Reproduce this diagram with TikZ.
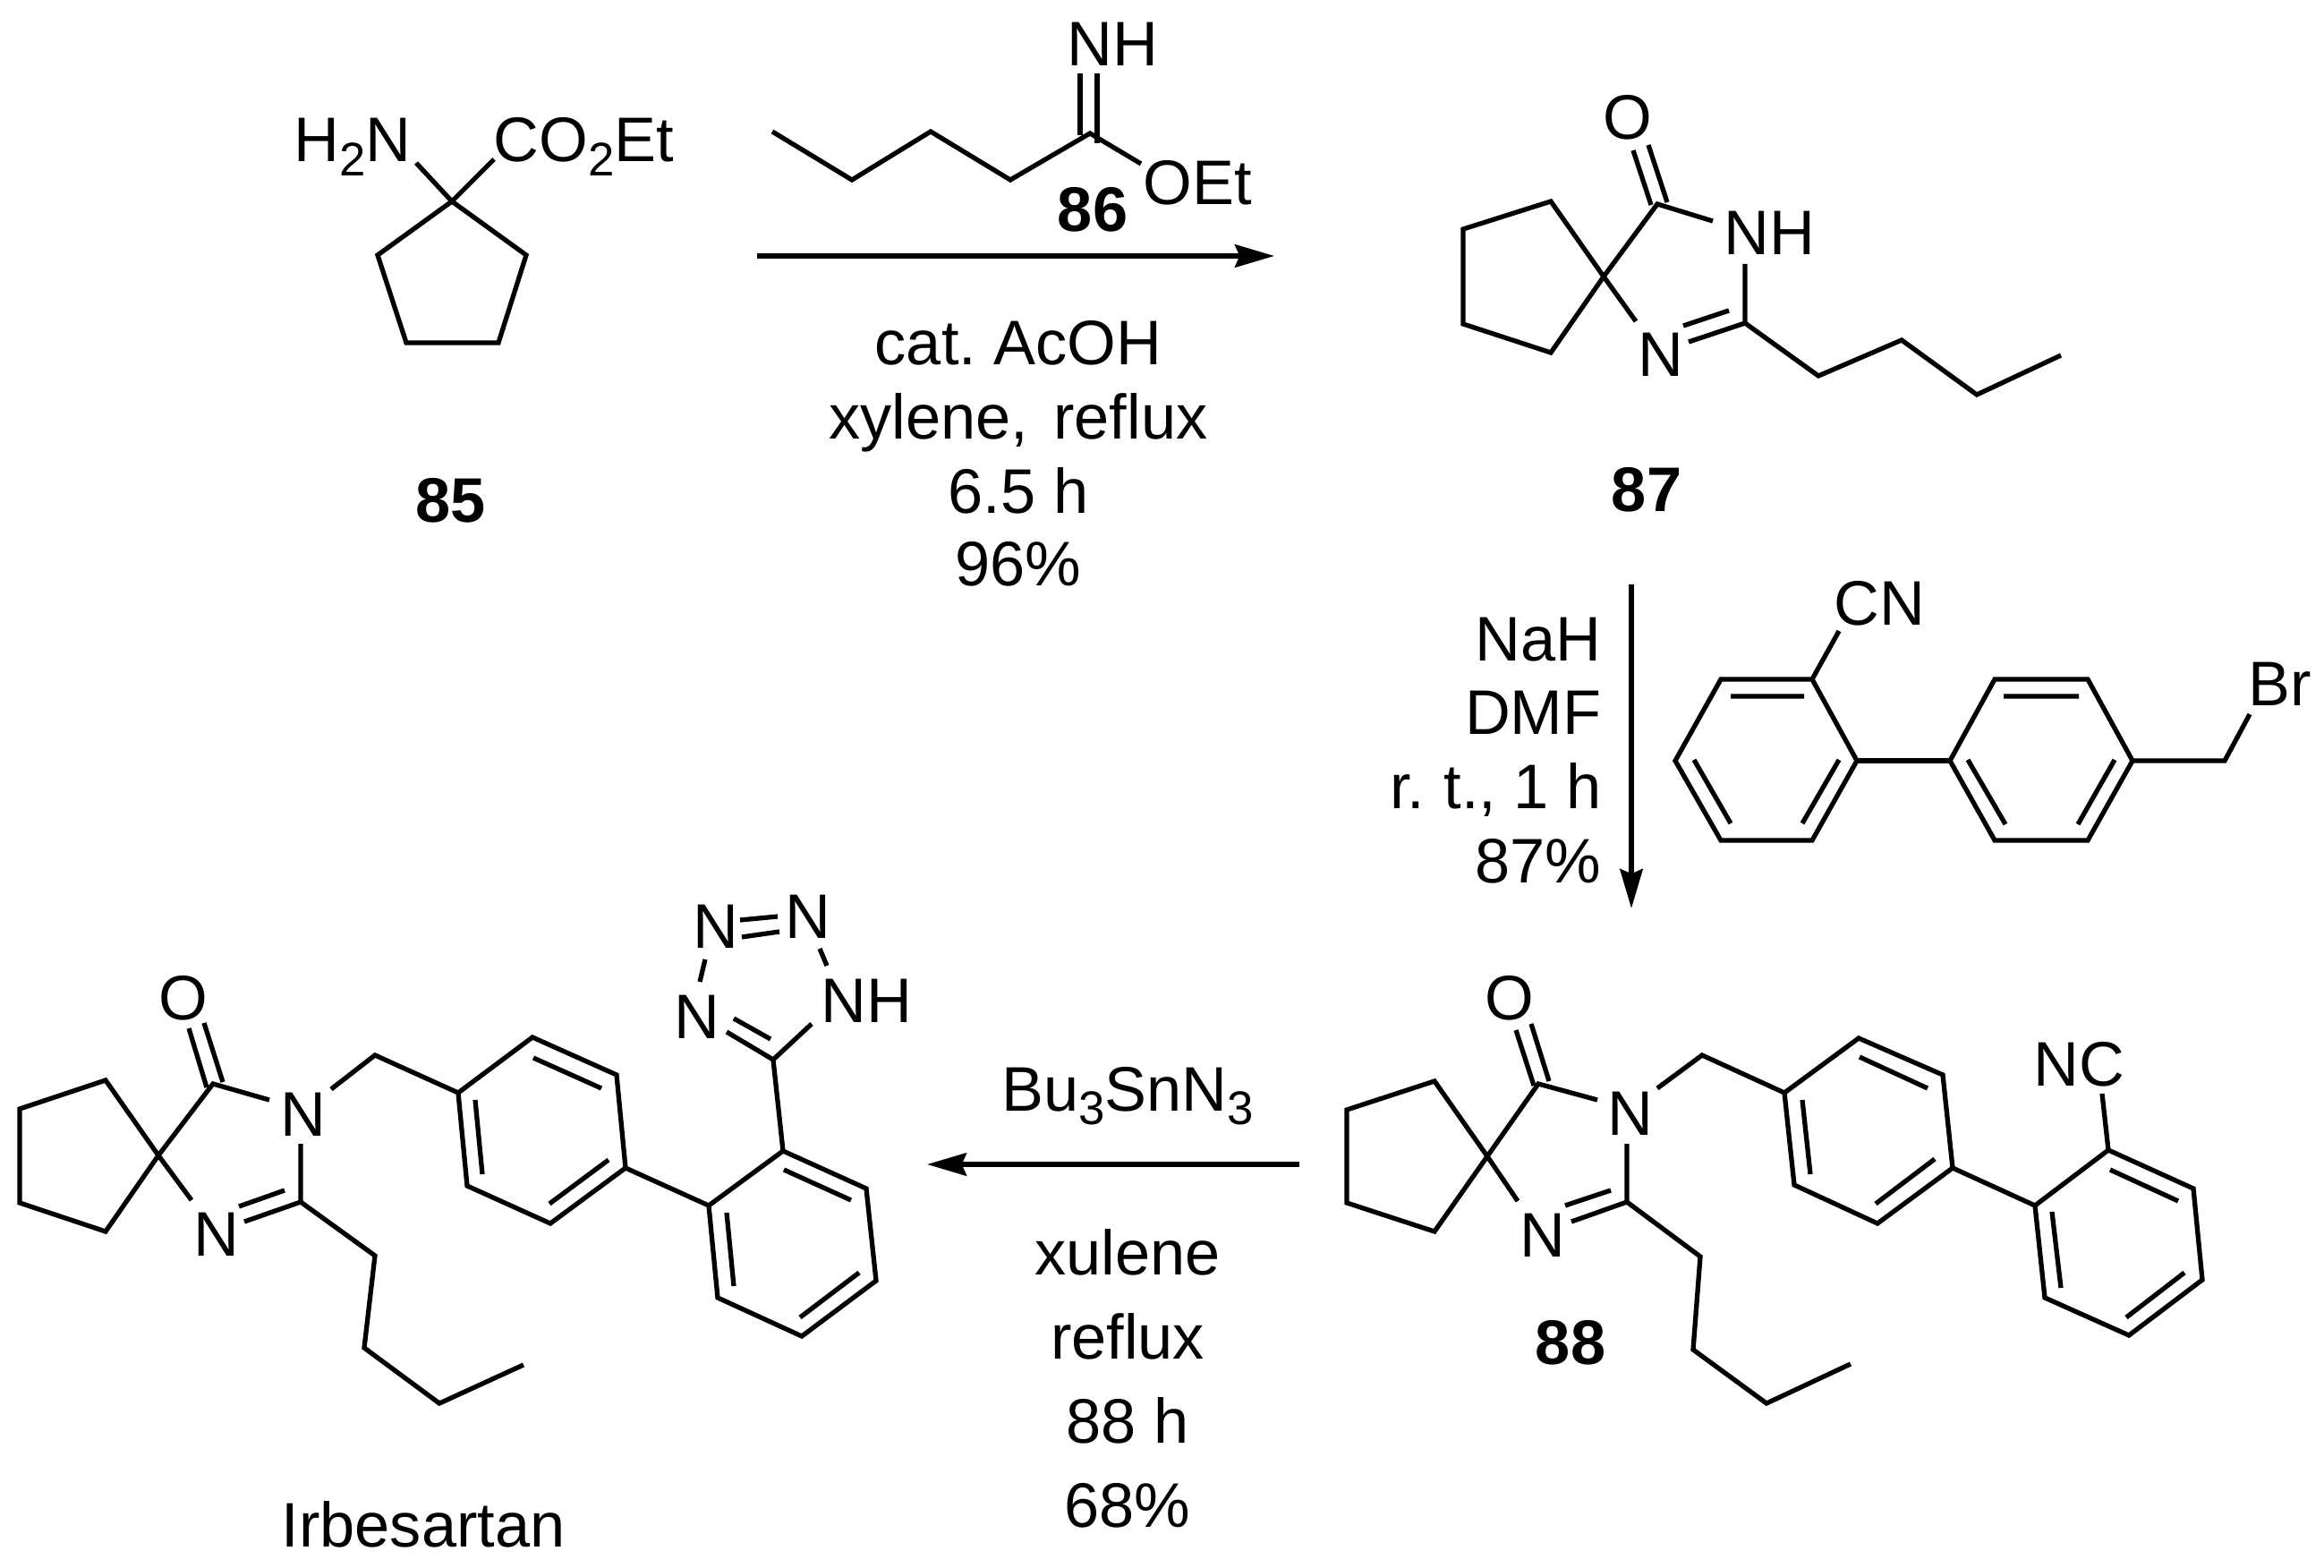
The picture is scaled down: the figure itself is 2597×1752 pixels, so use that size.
\documentclass[tikz,border=0pt]{standalone}
\usepackage{fontspec}
\setmainfont{Liberation Sans}
\usetikzlibrary{arrows.meta}
\newcommand{\subnum}[1]{\raisebox{-.22em}{\fontsize{15}{18}\selectfont #1}}
\tikzset{
  lbl/.style={inner sep=0,anchor=base,font=\fontsize{20}{24}\selectfont},
  lblw/.style={lbl,anchor=base west,xshift=-1.1pt},
  lble/.style={lbl,anchor=base east,xshift=1.2pt},
  num/.style={lbl,font=\fontsize{20}{24}\selectfont\bfseries},
  bond/.style={line width=1.5pt},
  rxn/.style={line width=1.6pt,-{Stealth[length=12.5pt,width=7.2pt,inset=1.5pt]}}
}
\begin{document}
\begin{tikzpicture}[x=0.01cm,y=-0.01cm]
     \useasboundingbox (0,0) rectangle (2597,1752);
     % 85
     \draw[bond] (505,225) -- (422,285) -- (454,383) -- (557,383) -- (588,285) -- cycle;
     \draw[bond] (465,182) -- (505,225) -- (552,178);
     \node[lblw] (h2n) at (332,181) {H\subnum{2}N};
     \node[lblw] (co2et) at (555,181) {CO\subnum{2}Et};
     \node[num] (n85) at (504,583) {85};
     % 86
     \draw[bond] (863,147) -- (952,201) -- (1040,147) -- (1129,201) -- (1218,149) -- (1275,183);
     \draw[bond] (1207,82) -- (1207,151) (1226,82) -- (1226,160);
     \node[lblw] (nh86) at (1196,74) {NH};
     \node[lblw] (oet) at (1281,229) {OEt};
     \node[num] (n86) at (1221,259) {86};
     % first step
     \coordinate (a1) at (846,286);
     \coordinate (a2) at (1424,286);
     \draw[rxn] (a1) -- (a2);
     \node[lbl] (c1a) at (1138,408) {cat.\ AcOH};
     \node[lbl] (c1b) at (1138,490) {xylene,\hspace{.4em}reflux};
     \node[lbl] (c1c) at (1138,573) {6.5 h};
     \node[lbl] (c1d) at (1138,654) {96\%};
     % 87
     \draw[bond] (1792,309) -- (1733,225) -- (1635,256) -- (1635,362) -- (1733,394) -- cycle;
     \draw[bond] (1792,309) -- (1852,228) -- (1914,247);
     \draw[bond] (1825,168) -- (1845,229) (1842,162) -- (1863,226);
     \draw[bond] (1792,309) -- (1828,359);
     \draw[bond] (1950,295) -- (1950,361) -- (2032,420) -- (2125,380) -- (2209,441) -- (2303,397);
     \draw[bond] (1950,361) -- (1887,382) (1932,347) -- (1881,364);
     \node[lblw] (o87) at (1795,156) {O};
     \node[lblw] (nh87) at (1930,285) {NH};
     \node[lblw] (n87a) at (1834,420) {N};
     \node[num] (n87) at (1840,571) {87};
     % second step
     \coordinate (b1) at (1823,653);
     \coordinate (b2) at (1823,1015);
     \draw[rxn] (b1) -- (b2);
     \node[lble] (c2a) at (1786,738) {NaH};
     \node[lble] (c2b) at (1786,820) {DMF};
     \node[lble] (c2c) at (1786,903) {r.\hspace{.3em}t., 1 h};
     \node[lble] (c2d) at (1786,986) {87\%};
     % bromide
     \draw[bond] (2025,759) -- (1923,759) -- (1872,850) -- (1923,939) -- (2025,939) -- (2075,850) -- cycle;
     \draw[bond] (1934,778) -- (2016,778) (1893,849) -- (1934,920) (2014,920) -- (2055,849);
     \draw[bond] (2075,850) -- (2179,850);
     \draw[bond] (2179,850) -- (2229,759) -- (2333,759) -- (2383,850) -- (2333,939) -- (2229,939) -- cycle;
     \draw[bond] (2239,778) -- (2323,778) (2199,849) -- (2241,921) (2322,921) -- (2363,849);
     \draw[bond] (2383,850) -- (2486,850) -- (2514,798);
     \draw[bond] (2025,759) -- (2055,705);
     \node[lblw] (cn) at (2053,698) {CN};
     \node[lblw] (br) at (2516,788) {Br};
     % 88
     \draw[bond] (1662,1292) -- (1603,1208) -- (1505,1240) -- (1505,1344) -- (1603,1376) -- cycle;
     \draw[bond] (1662,1292) -- (1719,1211) -- (1785,1229);
     \draw[bond] (1694,1151) -- (1714,1213) (1711,1144) -- (1731,1208);
     \draw[bond] (1662,1292) -- (1696,1342);
     \draw[bond] (1852,1216) -- (1902,1179) -- (1994,1221);
     \draw[bond] (1818,1278) -- (1818,1343) -- (1900,1404) -- (1892,1508) -- (1974,1568) -- (2068,1524);
     \draw[bond] (1818,1343) -- (1756,1365) (1800,1330) -- (1749,1347);
     \draw[bond] (1994,1221) -- (2077,1160) -- (2171,1201) -- (2182,1305) -- (2098,1367) -- (2005,1324) -- cycle;
     \draw[bond] (2078,1181) -- (2154,1216) (2162,1295) -- (2096,1345) (2023,1312) -- (2014,1229);
     \draw[bond] (2182,1305) -- (2274,1347);
     \draw[bond] (2274,1347) -- (2356,1285) -- (2451,1328) -- (2461,1430) -- (2379,1492) -- (2285,1450) -- cycle;
     \draw[bond] (2358,1307) -- (2434,1342) (2441,1422) -- (2376,1472) (2303,1439) -- (2293,1354);
     \draw[bond] (2356,1285) -- (2349,1222);
     \node[lblw] (o88) at (1663,1139) {O};
     \node[lblw] (n88a) at (1800,1268) {N};
     \node[lblw] (n88b) at (1702,1404) {N};
     \node[lblw] (nc) at (2276,1213) {NC};
     \node[num] (n88) at (1755,1524) {88};
     % third step
     \coordinate (d1) at (1452,1301);
     \coordinate (d2) at (1036,1301);
     \draw[rxn] (d1) -- (d2);
     \node[lbl] (c3a) at (1260,1241) {Bu\subnum{3}SnN\subnum{3}};
     \node[lbl] (c3b) at (1260,1424) {xulene};
     \node[lbl] (c3c) at (1260,1518) {reflux};
     \node[lbl] (c3d) at (1260,1612) {88 h};
     \node[lbl] (c3e) at (1260,1706) {68\%};
     % Irbesartan
     \draw[bond] (177,1291) -- (118,1207) -- (22,1239) -- (22,1344) -- (118,1376) -- cycle;
     \draw[bond] (177,1291) -- (238,1211) -- (301,1229);
     \draw[bond] (211,1149) -- (231,1215) (228,1143) -- (249,1209);
     \draw[bond] (177,1291) -- (214,1341);
     \draw[bond] (370,1217) -- (419,1179) -- (512,1221);
     \draw[bond] (336,1278) -- (336,1343) -- (419,1403) -- (407,1506) -- (491,1568) -- (585,1525);
     \draw[bond] (336,1343) -- (273,1365) (318,1330) -- (267,1348);
     \draw[bond] (512,1221) -- (595,1159) -- (689,1201) -- (699,1305) -- (615,1367) -- (522,1325) -- cycle;
     \draw[bond] (596,1182) -- (672,1216) (680,1296) -- (614,1345) (539,1312) -- (531,1229);
     \draw[bond] (699,1305) -- (792,1347);
     \draw[bond] (792,1347) -- (875,1286) -- (968,1328) -- (979,1431) -- (896,1493) -- (802,1450) -- cycle;
     \draw[bond] (876,1307) -- (951,1341) (960,1422) -- (894,1472) (820,1437) -- (812,1355);
     % tetrazole
     \draw[bond] (875,1286) -- (864,1184) -- (907,1144);
     \draw[bond] (864,1184) -- (812,1153) (861,1161) -- (820,1138);
     \draw[bond] (788,1072) -- (782,1097);
     \draw[bond] (827,1028) -- (869,1024) (829,1047) -- (871,1041);
     \draw[bond] (916,1060) -- (924,1079);
     \node[lblw] (o90) at (181,1139) {O};
     \node[lblw] (n90a) at (317,1269) {N};
     \node[lblw] (n90b) at (220,1403) {N};
     \node[lblw] (t1) at (757,1160) {N};
     \node[lblw] (t2) at (778,1059) {N};
     \node[lblw] (t3) at (881,1048) {N};
     \node[lblw] (t4) at (921,1142) {NH};
     \node[lbl] (irb) at (473,1728) {Irbesartan};
\end{tikzpicture}
\end{document}
